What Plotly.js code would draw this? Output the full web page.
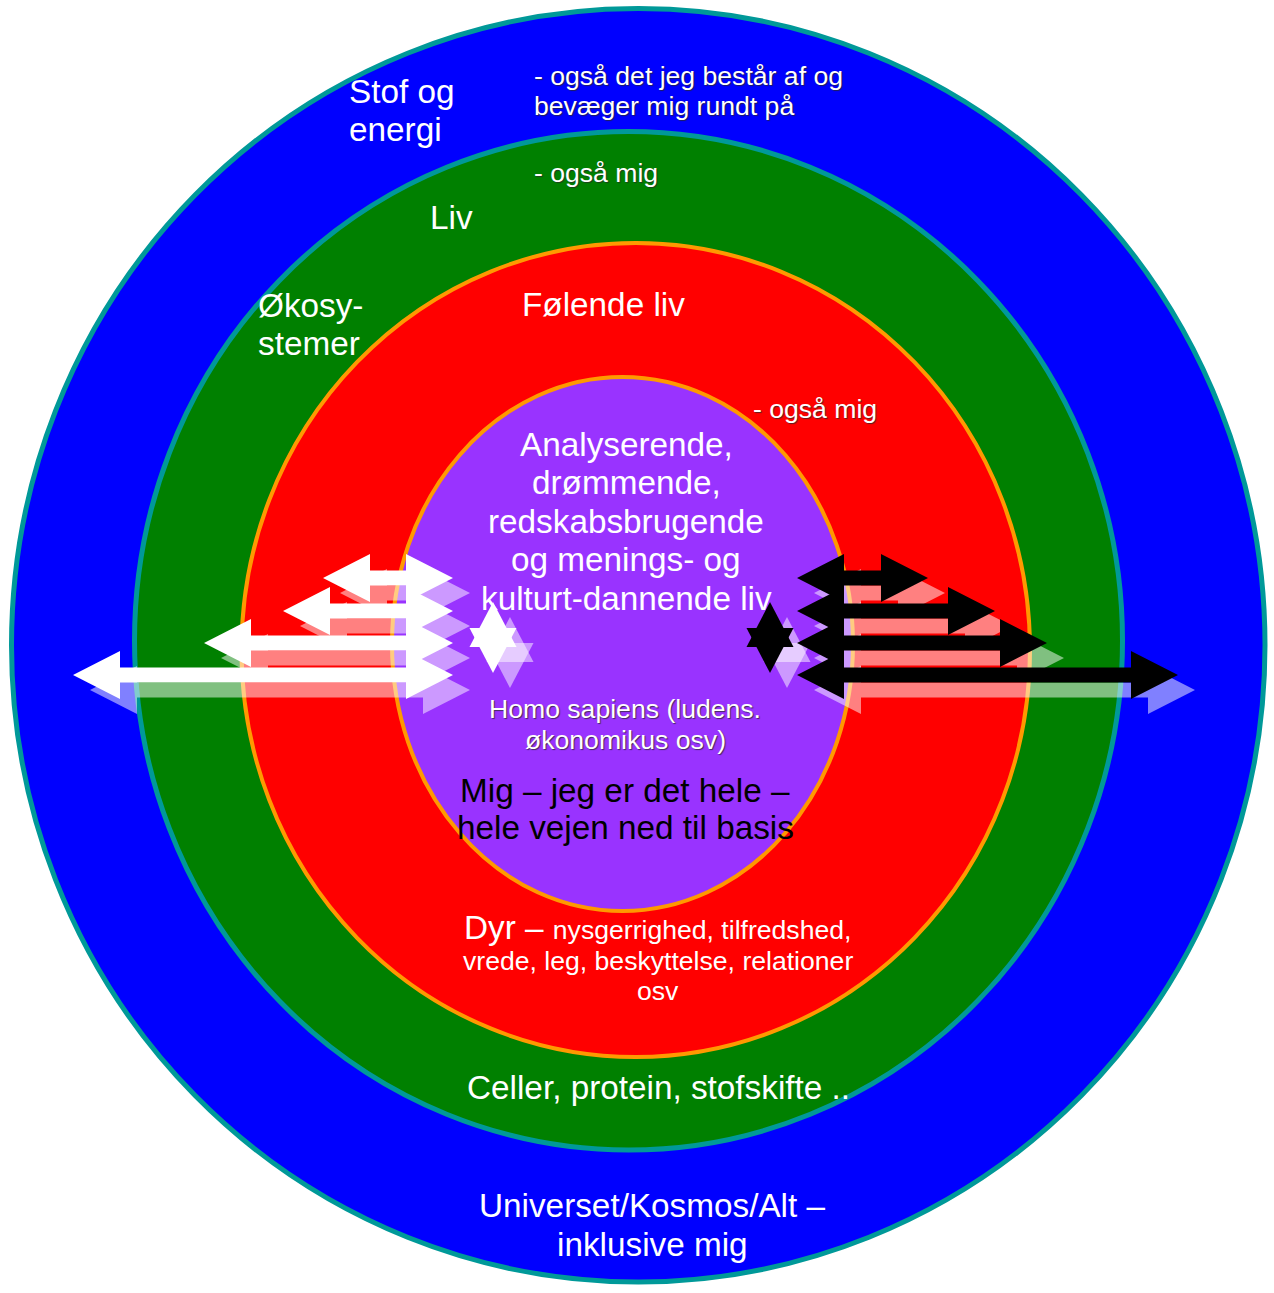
<!DOCTYPE html>
<html>
<head>
<meta charset="utf-8">
<script src="https://cdn.plot.ly/plotly-3.0.1.min.js"></script>
<style>
  html, body { margin: 0; padding: 0; background: #ffffff; }
  #chart { width: 1274px; height: 1293px; }
</style>
</head>
<body>
<div id="chart"></div>
<script>
// ---------------- DATA ----------------
// Concentric rings (outer -> inner), extents in diagram units
const ringNames  = ['Universet', 'Liv', 'Følende liv', 'Homo sapiens'];
const ringLeft   = [11.5, 134.5, 241.5, 392];
const ringRight  = [1265, 1122.5, 1030, 853];
const ringTop    = [8.5, 131.5, 243, 377];
const ringBottom = [1282, 1150, 1057, 911];

// Double arrows: rows, outward reach of white (left) and black (right) arrows
const arrowRows   = [578, 611, 643, 675];
const whiteOuter  = [323, 283, 204, 73];
const whiteInner  = [453, 453, 453, 453];
const blackInner  = [797, 797, 797, 797];
const blackOuter  = [928, 995, 1047, 1178];

// Stars (hexagrams)
const starX = [493, 770];
const starY = [637, 637];

// Text lines
const txtStof      = ['Stof og', 'energi'];
const txtStofNote  = ['- også det jeg består af og', 'bevæger mig rundt på'];
const txtLivNote   = ['- også mig'];
const txtLiv       = ['Liv'];
const txtOeko      = ['Økosy-', 'stemer'];
const txtFoelende  = ['Følende liv'];
const txtFoelNote  = ['- også mig'];
const txtHuman     = ['Analyserende,', 'drømmende,', 'redskabsbrugende', 'og menings- og', 'kulturt-dannende liv'];
const txtHomo      = ['Homo sapiens (ludens.', 'økonomikus osv)'];
const txtMig       = ['Mig – jeg er det hele –', 'hele vejen ned til basis'];
const txtDyrHead   = 'Dyr –';
const txtDyr       = ['nysgerrighed, tilfredshed,', 'vrede, leg, beskyttelse, relationer', 'osv'];
const txtCeller    = ['Celler, protein, stofskifte ..'];
const txtUnivers   = ['Universet/Kosmos/Alt –', 'inklusive mig'];

// ---------------- STYLE / LAYOUT ----------------
const FONT = 'Liberation Sans, Arial, Helvetica, sans-serif';
const BIG = 33.3, SMALL = 26.6;
const ringFill = ['#0000FF', '#008000', '#FF0000', '#9933FF'];
const ringLine = ['#009999', '#009999', '#FF9900', '#FF9900'];
const ringLineW = [5, 5, 4, 4];

const HEAD_LEN = 47, HEAD_HALF = 24, SHAFT_HALF = 7.5;
const SH_DX = 17, SH_DY = 15;
const SHADOW = 'rgba(255,255,255,0.5)';

function arrowPoly(xl, xr, yc, dx, dy) {
  const xs = [xl, xl + HEAD_LEN, xl + HEAD_LEN, xr - HEAD_LEN, xr - HEAD_LEN, xr,
              xr - HEAD_LEN, xr - HEAD_LEN, xl + HEAD_LEN, xl + HEAD_LEN, xl];
  const ys = [yc, yc - HEAD_HALF, yc - SHAFT_HALF, yc - SHAFT_HALF, yc - HEAD_HALF, yc,
              yc + HEAD_HALF, yc + SHAFT_HALF, yc + SHAFT_HALF, yc + HEAD_HALF, yc];
  return {x: xs.map(v => v + dx), y: ys.map(v => v + dy)};
}
function starTris(cx, cy, dx, dy) {
  const hw = 23.5, top = cy - 35, bot = cy + 36, up = cy + 10, dn = cy - 9;
  return [
    {x: [cx, cx - hw, cx + hw, cx].map(v => v + dx), y: [top, up, up, top].map(v => v + dy)},
    {x: [cx - hw, cx + hw, cx, cx - hw].map(v => v + dx), y: [dn, dn, bot, dn].map(v => v + dy)}
  ];
}
function polyTrace(p, color) {
  return {x: p.x, y: p.y, mode: 'lines', fill: 'toself', fillcolor: color,
          line: {width: 0, color: color}, hoverinfo: 'skip', showlegend: false, type: 'scatter'};
}

const traces = [];
// shadows
for (let i = 0; i < arrowRows.length; i++) {
  traces.push(polyTrace(arrowPoly(whiteOuter[i], whiteInner[i], arrowRows[i], SH_DX, SH_DY), SHADOW));
}
for (let i = 0; i < arrowRows.length; i++) {
  traces.push(polyTrace(arrowPoly(blackInner[i], blackOuter[i], arrowRows[i], SH_DX, SH_DY), SHADOW));
}
for (let s = 0; s < starX.length; s++) {
  starTris(starX[s], starY[s], SH_DX, SH_DY).forEach(t => traces.push(polyTrace(t, SHADOW)));
}
// arrows
for (let i = 0; i < arrowRows.length; i++) {
  traces.push(polyTrace(arrowPoly(whiteOuter[i], whiteInner[i], arrowRows[i], 0, 0), '#FFFFFF'));
}
for (let i = 0; i < arrowRows.length; i++) {
  traces.push(polyTrace(arrowPoly(blackInner[i], blackOuter[i], arrowRows[i], 0, 0), '#000000'));
}
// stars
const starColors = ['#FFFFFF', '#000000'];
for (let s = 0; s < starX.length; s++) {
  starTris(starX[s], starY[s], 0, 0).forEach(t => traces.push(polyTrace(t, starColors[s])));
}

const shapes = ringNames.map((n, i) => ({
  type: 'circle', xref: 'x', yref: 'y', layer: 'below',
  x0: ringLeft[i], x1: ringRight[i], y0: ringTop[i], y1: ringBottom[i],
  fillcolor: ringFill[i], line: {color: ringLine[i], width: ringLineW[i]}
}));

const annotations = [];
function addLines(lines, x, y0, dy, size, anchor, color, shadow) {
  lines.forEach((t, i) => annotations.push({
    x: x, y: y0 + i * dy, xref: 'x', yref: 'y', text: t, showarrow: false,
    xanchor: anchor, yanchor: 'middle',
    font: {family: FONT, size: size, color: color || '#FFFFFF', shadow: shadow || 'none'}
  }));
}
const TS = '1px 1px 1px rgba(40,40,40,0.75)';
addLines(txtStof, 347, 91, 38, BIG, 'left');
addLines(txtStofNote, 532, 76, 30, SMALL, 'left', '#FFFFFF', TS);
addLines(txtLivNote, 532, 173, 30, SMALL, 'left', '#FFFFFF', TS);
addLines(txtLiv, 428, 217, 38, BIG, 'left');
addLines(txtOeko, 256, 305, 38, BIG, 'left');
addLines(txtFoelende, 520, 304, 38, BIG, 'left');
addLines(txtFoelNote, 751, 409, 30, SMALL, 'left', '#FFFFFF', TS);
addLines(txtHuman, 626, 444, 38.5, BIG, 'center');
addLines(txtHomo, 625, 709, 31, SMALL, 'center', '#FFFFFF', TS);
addLines(txtMig, 625, 790, 37.5, BIG, 'center', '#000000');
annotations.push({
  x: 657, y: 927, xref: 'x', yref: 'y', showarrow: false, xanchor: 'center', yanchor: 'middle',
  text: txtDyrHead + ' <span style="font-size:' + SMALL + 'px">' + txtDyr[0] + '</span>',
  font: {family: FONT, size: BIG, color: '#FFFFFF', shadow: 'none'}
});
addLines(txtDyr.slice(1), 658, 961, 30, SMALL, 'center');
addLines(txtCeller, 658, 1087, 38, BIG, 'center');
addLines(txtUnivers, 652, 1205, 39, BIG, 'center');

const layout = {
  width: 1274, height: 1293,
  margin: {l: 0, r: 0, t: 0, b: 0, pad: 0},
  paper_bgcolor: '#FFFFFF', plot_bgcolor: 'rgba(0,0,0,0)',
  showlegend: false,
  xaxis: {range: [0, 1274], visible: false, fixedrange: true},
  yaxis: {range: [1293, 0], visible: false, fixedrange: true},
  shapes: shapes,
  annotations: annotations
};

Plotly.newPlot('chart', traces, layout, {displayModeBar: false, staticPlot: true});
</script>
</body>
</html>
